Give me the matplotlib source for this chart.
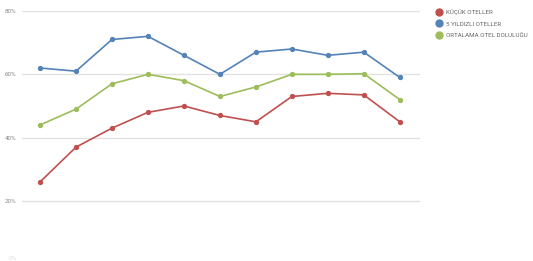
import matplotlib
matplotlib.use("Agg")
import matplotlib.pyplot as plt
import matplotlib.transforms as mtransforms
from matplotlib.lines import Line2D

plt.rcParams["font.family"] = ["Roboto", "DejaVu Sans"]

# monthly occupancy (%), 11 periods
periods = list(range(11))
kucuk = [26, 37, 43, 48, 50, 47, 45, 53, 54, 53.5, 45]
bes_yildiz = [62, 61, 71, 72, 66, 60, 67, 68, 66, 67, 59]
ortalama = [44, 49, 57, 60, 58, 53, 56, 60, 60, 60.2, 52]

series = [
    ("KÜÇÜK OTELLER", kucuk, "#c0504f"),
    ("5 YILDIZLI OTELLER", bes_yildiz, "#5383b9"),
    ("ORTALAMA OTEL DOLULUĞU", ortalama, "#9dbd5b"),
]

W, H = 533, 261
fig = plt.figure(figsize=(W / 100, H / 100), dpi=100)
# axes: x 22..420 px, y 0% at 264 px .. 80% at 11 px
ax = fig.add_axes([22 / W, (H - 264.3) / H, (420 - 22) / W, (264.3 - 11) / H])

for label, vals, col in series:
    ax.plot(periods, vals, color=col, lw=1.2, marker="o", ms=2.8, label=label)

ax.set_xlim(-0.5, 10.56)
ax.set_ylim(0, 80)
ax.set_yticks([0, 20, 40, 60, 80])
ax.set_yticklabels(["0%", "20%", "40%", "60%", "80%"])
ax.set_xticks([])
ax.grid(axis="y", color="#e2e2e2", lw=1.0)
ax.set_axisbelow(True)
for s in ax.spines.values():
    s.set_visible(False)
ax.tick_params(axis="y", length=0, labelsize=4.5, labelcolor="#888888", pad=4)

# the 0% label sits right at the bottom edge; nudge it up so it stays inside
zero = ax.get_yticklabels()[0]
zero.set_transform(zero.get_transform()
                   + mtransforms.ScaledTranslation(0, 6 / 100, fig.dpi_scale_trans))
zero.set_color("#dddddd")

handles = [Line2D([], [], ls="none", marker="o", ms=5, color=c) for _, _, c in series]
fig.legend(handles, [s[0] for s in series], loc="upper left",
           bbox_to_anchor=(434 / W, 1 - 7 / H), frameon=False, fontsize=4.5,
           labelcolor="#666666", handlelength=0.8, handletextpad=0.7,
           labelspacing=0.95, borderaxespad=0)

fig.savefig("out.png", dpi=100)
